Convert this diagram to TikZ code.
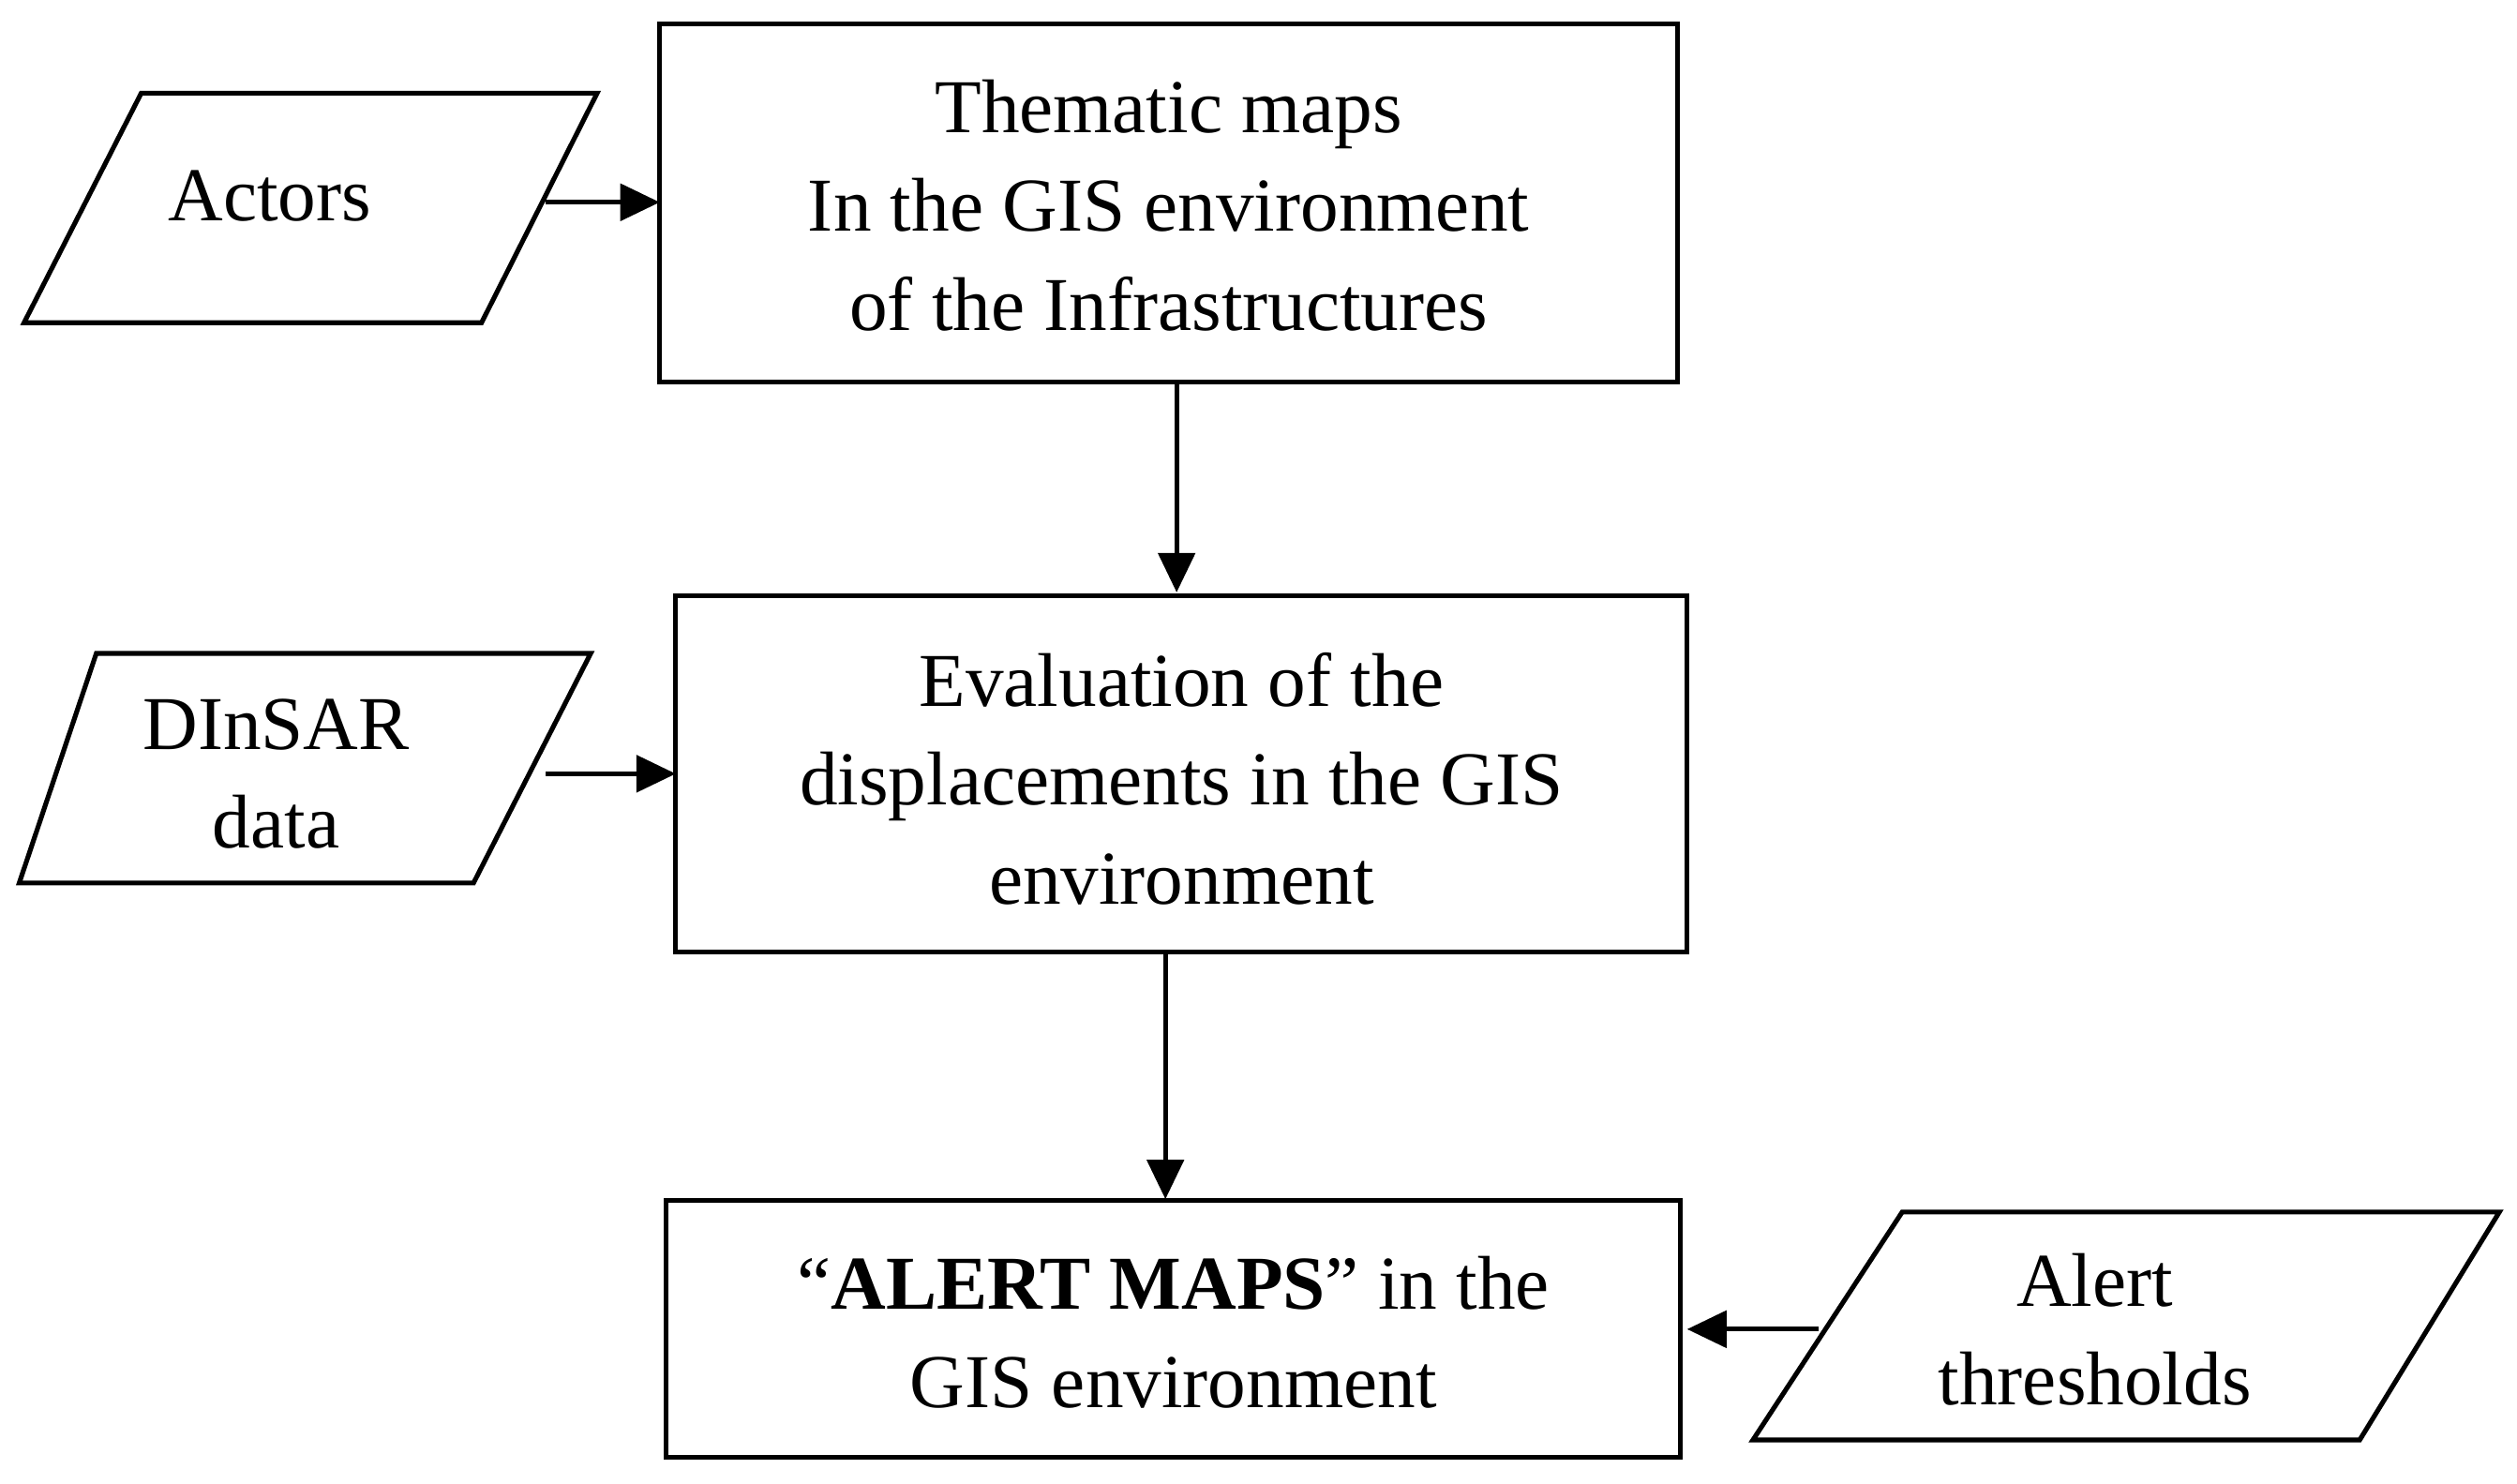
\documentclass[tikz,border=0pt]{standalone}
\usepackage{fontspec}
\setmainfont{Liberation Serif}
\usetikzlibrary{arrows.meta}
\begin{document}
\begin{tikzpicture}[x=0.02cm,y=-0.02cm,
  ln/.style={line width=1.7pt},
  arr/.style={ln,-{Triangle[length=14pt,width=13pt]}},
  txt/.style={align=center,font=\fontsize{27}{35}\selectfont,inner sep=0pt}]
\useasboundingbox (0,0) rectangle (1568,924);
\draw[ln] (411,15) rectangle (1045,238);
\draw[ln] (421,371) rectangle (1051,593);
\draw[ln] (415,748) rectangle (1047,908);
\draw[ln] (88,58) -- (372,58) -- (300,201) -- (15,201) -- cycle;
\draw[ln] (60,407) -- (368,407) -- (295,550) -- (12,550) -- cycle;
\draw[ln] (1185,755) -- (1557,755) -- (1470,897) -- (1092,897) -- cycle;
\node[txt] (b1) at (728,128) {Thematic maps\\In the GIS environment\\of the Infrastructures};
\node[txt] (b2) at (736,485) {Evaluation of the\\displacements in the GIS\\environment};
\node[txt] (b3) at (731,830) {``\textbf{ALERT MAPS}'' in the\\GIS environment};
\node[txt] (a) at (168,122) {Actors};
\node[txt] (d) at (172,482) {DInSAR\\data};
\node[txt] (t) at (1305,828) {Alert\\thresholds};
\coordinate (a1) at (340,126); \coordinate (a2) at (411,126);
\coordinate (d1) at (340,482); \coordinate (d2) at (421,482);
\coordinate (t1) at (1133,828); \coordinate (t2) at (1051,828);
\coordinate (v1) at (733,238); \coordinate (v2) at (733,369);
\coordinate (w1) at (726,593); \coordinate (w2) at (726,747);
\draw[arr] (a1) -- (a2);
\draw[arr] (d1) -- (d2);
\draw[arr] (t1) -- (t2);
\draw[arr] (v1) -- (v2);
\draw[arr] (w1) -- (w2);
\end{tikzpicture}
\end{document}
